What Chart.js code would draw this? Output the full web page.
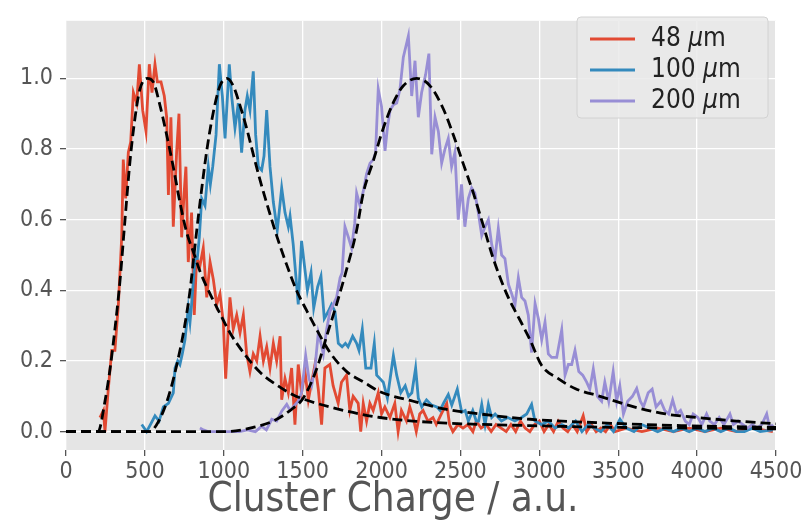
<!DOCTYPE html>
<html>
<head>
<meta charset="utf-8">
<script src="https://cdn.jsdelivr.net/npm/chart.js@4.4.1/dist/chart.umd.min.js"></script>
<style>
  html, body { margin: 0; padding: 0; background: #fff; }
  canvas { display: block; }
</style>
</head>
<body>
<canvas id="chart" width="806" height="521" style="width:806px;height:521px"></canvas>
<script>
const charge48 = [215, 237, 247, 268, 290, 310, 332, 353, 363, 378, 395, 410, 427, 448, 465, 486, 507, 528, 545, 564, 579, 602, 623, 638, 649, 665, 680, 701, 716, 733, 748, 760, 775, 796, 813, 828, 849, 870, 892, 913, 934, 955, 976, 997, 1012, 1039, 1060, 1082, 1103, 1124, 1145, 1166, 1187, 1209, 1230, 1251, 1272, 1293, 1314, 1335, 1357, 1367, 1388, 1409, 1430, 1451, 1472, 1493, 1515, 1536, 1557, 1578, 1599, 1620, 1641, 1672, 1693, 1725, 1746, 1778, 1799, 1820, 1852, 1868, 1884, 1905, 1926, 1947, 1979, 2000, 2021, 2053, 2084, 2105, 2126, 2158, 2179, 2200, 2220, 2242, 2263, 2294, 2326, 2347, 2379, 2413, 2431, 2452, 2484, 2516, 2547, 2579, 2600, 2631, 2663, 2695, 2726, 2758, 2790, 2820, 2850, 2880, 2910, 2940, 2970, 3000, 3030, 3060, 3090, 3120, 3150, 3180, 3210, 3240, 3278, 3300, 3330, 3360, 3390, 3420, 3450, 3480, 3550, 3650, 3750, 3850, 3950, 4050, 4150, 4250, 4350, 4480];
const counts48 = [0.04, 0.06, 0.0, 0.12, 0.23, 0.23, 0.36, 0.55, 0.77, 0.66, 0.79, 0.82, 0.96, 0.93, 1.04, 0.91, 0.85, 1.04, 0.96, 1.04, 0.99, 0.99, 0.95, 0.89, 0.67, 0.89, 0.58, 0.79, 0.90, 0.55, 0.67, 0.75, 0.48, 0.62, 0.33, 0.49, 0.47, 0.52, 0.38, 0.48, 0.43, 0.36, 0.39, 0.31, 0.15, 0.38, 0.29, 0.33, 0.28, 0.33, 0.22, 0.17, 0.22, 0.20, 0.27, 0.20, 0.24, 0.18, 0.25, 0.20, 0.27, 0.09, 0.15, 0.11, 0.18, 0.02, 0.19, 0.11, 0.17, 0.09, 0.14, 0.19, 0.12, 0.02, 0.18, 0.19, 0.13, 0.08, 0.14, 0.16, 0.06, 0.10, 0.08, 0.0, 0.08, 0.03, 0.08, 0.06, 0.11, 0.05, 0.07, 0.04, 0.08, 0.0, 0.06, 0.03, 0.07, 0.04, 0.0, 0.05, 0.06, 0.03, 0.04, 0.02, 0.05, 0.08, 0.02, 0.0, 0.02, 0.01, 0.02, 0.0, 0.03, 0.01, 0.02, 0.0, 0.02, 0.01, 0.0, 0.02, 0.0, 0.03, 0.01, 0.0, 0.02, 0.03, 0.0, 0.02, 0.0, 0.03, 0.01, 0.0, 0.02, 0.0, 0.045, 0.0, 0.02, 0.0, 0.01, 0.0, 0.02, 0.0, 0.01, 0.0, 0.01, 0.0, 0.01, 0.0, 0.01, 0.0, 0.01, 0.0];

const charge100 = [480, 511, 535, 564, 590, 617, 649, 680, 691, 708, 722, 737, 754, 775, 786, 796, 818, 832, 845, 860, 881, 902, 915, 930, 951, 972, 991, 1008, 1035, 1050, 1071, 1092, 1113, 1134, 1149, 1166, 1187, 1202, 1219, 1240, 1255, 1272, 1293, 1314, 1339, 1367, 1388, 1409, 1420, 1440, 1472, 1493, 1514, 1530, 1553, 1570, 1595, 1616, 1637, 1662, 1683, 1705, 1726, 1750, 1771, 1788, 1817, 1842, 1857, 1878, 1900, 1933, 1954, 1969, 1990, 2011, 2037, 2075, 2096, 2122, 2150, 2171, 2192, 2216, 2233, 2255, 2285, 2318, 2350, 2371, 2392, 2423, 2445, 2480, 2508, 2530, 2550, 2578, 2600, 2615, 2635, 2656, 2677, 2698, 2720, 2760, 2800, 2845, 2887, 2920, 2951, 2972, 3015, 3057, 3100, 3142, 3185, 3230, 3270, 3310, 3350, 3390, 3430, 3470, 3511, 3550, 3600, 3650, 3700, 3750, 3800, 3850, 3900, 3950, 4000, 4050, 4100, 4150, 4200, 4250, 4300, 4350, 4400, 4480];
const counts100 = [0.02, 0.0, 0.02, 0.045, 0.03, 0.07, 0.08, 0.11, 0.18, 0.20, 0.19, 0.22, 0.26, 0.35, 0.31, 0.36, 0.49, 0.49, 0.55, 0.66, 0.64, 0.75, 0.70, 0.75, 0.84, 1.04, 0.95, 0.83, 1.04, 0.95, 0.86, 0.93, 0.79, 0.91, 0.95, 0.91, 1.02, 0.84, 0.75, 0.74, 0.78, 0.91, 0.75, 0.65, 0.57, 0.69, 0.62, 0.58, 0.61, 0.53, 0.36, 0.54, 0.46, 0.40, 0.45, 0.35, 0.41, 0.44, 0.32, 0.34, 0.36, 0.34, 0.25, 0.24, 0.25, 0.24, 0.27, 0.25, 0.23, 0.29, 0.18, 0.18, 0.25, 0.16, 0.15, 0.14, 0.095, 0.215, 0.16, 0.11, 0.13, 0.10, 0.11, 0.18, 0.095, 0.07, 0.09, 0.075, 0.07, 0.06, 0.08, 0.105, 0.075, 0.12, 0.055, 0.06, 0.03, 0.06, 0.03, 0.03, 0.077, 0.02, 0.077, 0.04, 0.05, 0.03, 0.04, 0.03, 0.04, 0.05, 0.077, 0.03, 0.02, 0.03, 0.01, 0.02, 0.01, 0.03, 0.0, 0.02, 0.01, 0.0, 0.02, 0.0, 0.035, 0.01, 0.0, 0.02, 0.01, 0.0, 0.01, 0.0, 0.01, 0.0, 0.01, 0.0, 0.01, 0.0, 0.01, 0.0, 0.0, 0.01, 0.0, 0.005];

const charge200 = [849, 870, 900, 950, 1000, 1050, 1100, 1150, 1200, 1240, 1270, 1304, 1335, 1367, 1399, 1420, 1440, 1472, 1493, 1519, 1540, 1557, 1578, 1599, 1616, 1631, 1652, 1673, 1694, 1715, 1737, 1750, 1768, 1790, 1810, 1830, 1842, 1863, 1884, 1905, 1927, 1948, 1962, 1979, 2000, 2022, 2037, 2054, 2075, 2096, 2117, 2138, 2170, 2191, 2212, 2233, 2254, 2279, 2300, 2318, 2339, 2360, 2381, 2402, 2423, 2444, 2465, 2486, 2507, 2528, 2550, 2571, 2592, 2613, 2635, 2656, 2677, 2698, 2719, 2740, 2761, 2782, 2804, 2825, 2846, 2867, 2888, 2909, 2930, 2951, 2973, 2994, 3015, 3036, 3057, 3078, 3110, 3142, 3163, 3184, 3205, 3226, 3250, 3275, 3300, 3320, 3342, 3368, 3395, 3415, 3440, 3468, 3490, 3510, 3533, 3560, 3590, 3617, 3640, 3660, 3690, 3715, 3740, 3770, 3795, 3820, 3845, 3870, 3895, 3925, 3950, 3975, 4005, 4030, 4060, 4080, 4110, 4140, 4170, 4208, 4230, 4260, 4290, 4320, 4350, 4380, 4410, 4441, 4460, 4481];
const counts200 = [0.01, 0.005, 0.0, 0.0, 0.0, 0.0, 0.0, 0.005, 0.0, 0.015, 0.005, 0.035, 0.03, 0.058, 0.077, 0.06, 0.07, 0.086, 0.11, 0.215, 0.15, 0.13, 0.18, 0.28, 0.25, 0.22, 0.29, 0.34, 0.36, 0.38, 0.435, 0.45, 0.58, 0.55, 0.52, 0.59, 0.675, 0.64, 0.68, 0.73, 0.76, 0.77, 0.79, 0.97, 0.92, 0.795, 0.86, 0.91, 0.925, 0.93, 0.97, 1.06, 1.12, 0.95, 1.05, 0.89, 0.96, 1.01, 1.07, 0.785, 0.89, 0.85, 0.76, 0.80, 0.83, 0.75, 0.79, 0.60, 0.70, 0.58, 0.66, 0.69, 0.675, 0.62, 0.555, 0.58, 0.60, 0.53, 0.49, 0.575, 0.50, 0.49, 0.417, 0.39, 0.36, 0.436, 0.38, 0.37, 0.33, 0.224, 0.362, 0.32, 0.26, 0.31, 0.22, 0.21, 0.21, 0.288, 0.16, 0.19, 0.19, 0.23, 0.17, 0.16, 0.14, 0.12, 0.177, 0.10, 0.086, 0.14, 0.086, 0.17, 0.086, 0.13, 0.05, 0.086, 0.10, 0.122, 0.086, 0.07, 0.11, 0.12, 0.07, 0.086, 0.06, 0.05, 0.09, 0.05, 0.06, 0.03, 0.02, 0.05, 0.04, 0.02, 0.05, 0.03, 0.02, 0.04, 0.02, 0.05, 0.02, 0.03, 0.02, 0.01, 0.02, 0.01, 0.02, 0.05, 0.01, 0.02];

// Fitted curves (dashed)
const fitX48 = [0, 203, 247, 279, 310, 342, 374, 406, 437, 469, 515, 553, 596, 638, 680, 723, 765, 807, 849, 913, 976, 1039, 1124, 1230, 1335, 1441, 1547, 1779, 1990, 2200, 2413, 2940, 3500, 4000, 4500];
const fitY48 = [0, 0, 0.086, 0.177, 0.29, 0.426, 0.60, 0.767, 0.887, 0.97, 1.0, 0.99, 0.923, 0.84, 0.749, 0.647, 0.564, 0.509, 0.454, 0.39, 0.334, 0.28, 0.224, 0.168, 0.132, 0.104, 0.086, 0.058, 0.04, 0.03, 0.024, 0.017, 0.012, 0.01, 0.008];

const fitX100 = [0, 532, 575, 617, 659, 701, 744, 786, 818, 849, 892, 934, 976, 1019, 1060, 1103, 1145, 1187, 1230, 1272, 1335, 1399, 1462, 1525, 1567, 1673, 1779, 1884, 1990, 2201, 2413, 2624, 2941, 3385, 3900, 4500];
const fitY100 = [0, 0, 0.02, 0.058, 0.113, 0.187, 0.279, 0.399, 0.528, 0.647, 0.795, 0.905, 0.979, 1.0, 0.979, 0.923, 0.859, 0.785, 0.712, 0.647, 0.555, 0.472, 0.399, 0.343, 0.307, 0.224, 0.17, 0.141, 0.113, 0.086, 0.063, 0.05, 0.035, 0.025, 0.017, 0.012];

const fitX200 = [0, 1018, 1187, 1314, 1441, 1504, 1589, 1652, 1716, 1779, 1842, 1884, 1948, 2011, 2075, 2138, 2223, 2307, 2391, 2455, 2518, 2582, 2645, 2708, 2793, 2877, 2941, 3015, 3120, 3226, 3385, 3600, 3800, 4000, 4250, 4500];
const fitY200 = [0, 0, 0.012, 0.03, 0.067, 0.095, 0.178, 0.27, 0.362, 0.46, 0.57, 0.675, 0.767, 0.859, 0.932, 0.979, 1.0, 0.979, 0.914, 0.84, 0.758, 0.675, 0.583, 0.49, 0.39, 0.316, 0.26, 0.187, 0.15, 0.122, 0.1, 0.07, 0.05, 0.04, 0.03, 0.022];

const xTicks = [0, 500, 1000, 1500, 2000, 2500, 3000, 3500, 4000, 4500];
const yTicks = [0.0, 0.2, 0.4, 0.6, 0.8, 1.0];
const seriesLabels = ['48 \u03bcm', '100 \u03bcm', '200 \u03bcm'];
const seriesColors = ['#E24A33', '#348ABD', '#988ED5'];
const xTitle = 'Cluster Charge / a.u.';

const FONT = "'DejaVu Sans Condensed', 'DejaVu Sans', sans-serif";

function pts(xs, ys) {
    return xs.map((x, i) => ({ x: x, y: ys[i] }));
}

function dataLine(label, xs, ys, color, order) {
    return {
        label: label,
        data: pts(xs, ys),
        borderColor: color,
        borderWidth: 2.8,
        pointRadius: 0,
        tension: 0,
        fill: false,
        order: order
    };
}

function fitLine(xs, ys) {
    return {
        label: 'fit',
        data: pts(xs, ys),
        borderColor: '#000',
        borderWidth: 2.8,
        borderDash: [10, 5],
        pointRadius: 0,
        cubicInterpolationMode: 'monotone',
        fill: false,
        order: 0,
        isFit: true
    };
}

// grey plot panel
const panelBg = {
    id: 'panelBg',
    beforeDraw(chart) {
        const a = chart.chartArea;
        const c = chart.ctx;
        c.save();
        c.fillStyle = '#E5E5E5';
        c.fillRect(a.left, a.top, a.right - a.left, a.bottom - a.top);
        c.restore();
    }
};

// x axis label, placed like the original
const axisLabel = {
    id: 'axisLabel',
    afterDraw(chart) {
        const c = chart.ctx;
        c.save();
        c.fillStyle = '#555';
        c.font = '40px ' + FONT;
        c.textAlign = 'center';
        c.textBaseline = 'alphabetic';
        c.fillText(xTitle, 393, 511);
        c.restore();
    }
};

// legend in the upper right, matplotlib style
const innerLegend = {
    id: 'innerLegend',
    afterDraw(chart) {
        const c = chart.ctx;
        const box = { x: 577, y: 17, w: 191, h: 101 };
        c.save();
        c.beginPath();
        c.roundRect(box.x, box.y, box.w, box.h, 4);
        c.fillStyle = 'rgba(234,234,234,0.85)';
        c.fill();
        c.strokeStyle = '#D2D2D2';
        c.lineWidth = 1;
        c.stroke();

        const items = chart.data.datasets.filter(d => !d.isFit);
        items.forEach((d, i) => {
            const y = box.y + 22 + i * 31;
            c.beginPath();
            c.moveTo(box.x + 13, y);
            c.lineTo(box.x + 58, y);
            c.strokeStyle = d.borderColor;
            c.lineWidth = 2.8;
            c.stroke();

            const parts = d.label.split('\u03bc');
            let tx = box.x + 74;
            c.fillStyle = '#222';
            c.textBaseline = 'middle';
            c.font = '26px ' + FONT;
            c.fillText(parts[0], tx, y);
            tx += c.measureText(parts[0]).width;
            c.font = 'oblique 26px ' + FONT;
            c.fillText('\u03bc', tx, y);
            tx += c.measureText('\u03bc').width;
            c.font = '26px ' + FONT;
            c.fillText(parts[1], tx, y);
        });
        c.restore();
    }
};

const ctx = document.getElementById('chart').getContext('2d');
new Chart(ctx, {
    type: 'line',
    data: {
        datasets: [
            dataLine(seriesLabels[0], charge48, counts48, seriesColors[0], 4),
            dataLine(seriesLabels[1], charge100, counts100, seriesColors[1], 3),
            dataLine(seriesLabels[2], charge200, counts200, seriesColors[2], 2),
            fitLine(fitX48, fitY48),
            fitLine(fitX100, fitY100),
            fitLine(fitX200, fitY200)
        ]
    },
    options: {
        responsive: false,
        animation: false,
        devicePixelRatio: 1,
        layout: { padding: { top: 10, right: 30, left: 0, bottom: 0 } },
        scales: {
            x: {
                type: 'linear',
                min: 0,
                max: 4500,
                afterBuildTicks: s => { s.ticks = xTicks.map(v => ({ value: v })); },
                afterFit: s => { s.height = 71; },
                ticks: {
                    autoSkip: false,
                    maxRotation: 0,
                    color: '#555',
                    padding: 2,
                    font: { family: FONT, size: 23 },
                    callback: v => String(v)
                },
                grid: { color: '#fff', lineWidth: 1.3, tickColor: '#555', tickLength: 6 },
                border: { display: false }
            },
            y: {
                type: 'linear',
                min: -0.052,
                max: 1.163,
                afterBuildTicks: s => { s.ticks = yTicks.map(v => ({ value: v })); },
                afterFit: s => { s.width = 66; },
                ticks: {
                    color: '#555',
                    padding: 7,
                    font: { family: FONT, size: 23 },
                    callback: v => v.toFixed(1)
                },
                grid: { color: '#fff', lineWidth: 1.3, tickColor: '#555', tickLength: 6 },
                border: { display: false }
            }
        },
        plugins: {
            legend: { display: false },
            tooltip: { enabled: false }
        }
    },
    plugins: [panelBg, axisLabel, innerLegend]
});
</script>
</body>
</html>
